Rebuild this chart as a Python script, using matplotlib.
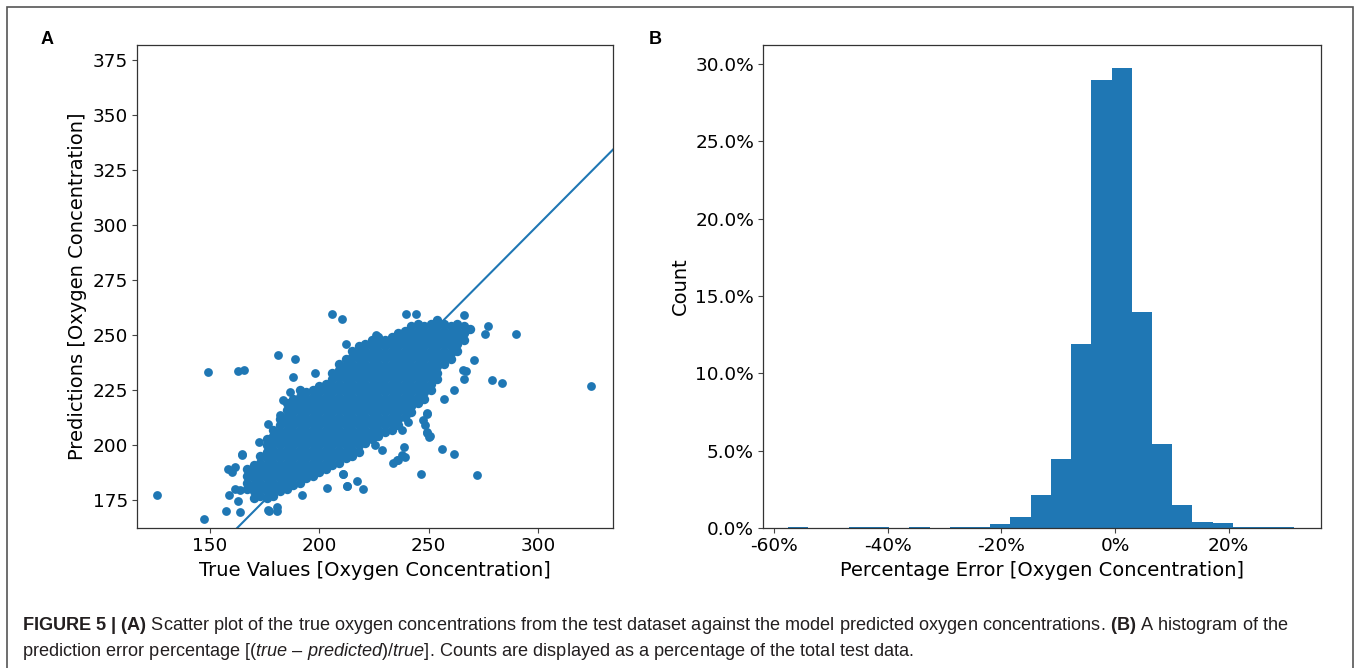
import matplotlib
matplotlib.use("Agg")
import matplotlib.pyplot as plt
import numpy as np
from matplotlib.patches import Rectangle
from matplotlib.ticker import FuncFormatter, PercentFormatter

# --- panel A: scattered points (true, predicted) ---
outlier_true = [125.8, 147.2, 149.2, 162.6, 165.6, 180.9, 188.8, 205.9, 210.4, 290.0,
                279.1, 283.7, 324.3, 272.1, 261.8, 256.3, 246.3, 157.1, 163.6, 158.7,
                163.0, 161.3, 164.6, 176.9, 180.5, 212.6, 217.0, 220.0, 203.7, 187.8,
                198.2, 212.0, 239.4, 244.4, 266.2, 277.1, 275.7, 270.8, 267.1, 266.2,
                261.8, 256.9, 238.0, 235.5, 249.3, 250.3, 249.3, 240.4, 228.5, 183.5,
                186.6, 225.9, 265.9, 210.7, 233.8, 236.1, 239.2, 238.8, 225.5, 237.7,
                247.6, 248.4, 249.1, 250.6, 249.1, 240.7, 191.9, 161.4, 163.7, 158.4,
                159.9, 164.8, 172.4, 176.4, 177.1, 182.0, 176.7, 180.5, 211.0, 212.5]
outlier_pred = [177.3, 166.7, 233.3, 233.8, 234.2, 240.9, 239.2, 259.8, 257.4, 250.4,
                229.8, 228.3, 226.8, 186.3, 195.9, 198.5, 186.8, 170.1, 169.8, 177.3,
                174.7, 190.1, 195.4, 170.0, 170.0, 181.5, 183.8, 180.3, 180.6, 231.0,
                232.8, 245.8, 259.8, 259.8, 259.1, 254.1, 250.3, 238.9, 233.6, 230.3,
                225.0, 221.2, 195.4, 193.2, 206.0, 203.8, 214.7, 210.6, 197.7, 220.4,
                224.2, 250.0, 234.1, 187.1, 192.0, 193.2, 194.7, 199.2, 200.0, 207.1,
                211.3, 209.1, 205.4, 204.1, 214.4, 214.7, 177.3, 180.3, 179.8, 189.4,
                187.9, 195.8, 201.5, 209.8, 200.8, 213.6, 170.4, 172.0, 187.1, 181.3]

# dense cloud, read column by column (true value -> predictions seen in that column)
cloud_true = [167, 170, 173, 176, 179, 182, 185, 188, 191, 194, 197, 200, 203, 206,
              209, 212, 215, 218, 221, 224, 227, 230, 233, 236, 239, 242, 245, 248,
              251, 254, 257, 260, 263, 266, 269]
cloud_pred = [
    [180, 183, 186, 189],
    [176, 179, 182, 185, 188, 191],
    [177, 180, 183, 186, 189, 192, 195],
    [176, 179, 182, 185, 188, 191, 194, 197, 200, 203],
    [177, 180, 183, 186, 189, 192, 195, 198, 201, 204, 207],
    [179, 182, 185, 188, 191, 194, 197, 200, 203, 206, 209, 212],
    [180, 183, 186, 189, 192, 195, 198, 201, 204, 207, 210, 213, 216, 219],
    [182, 185, 188, 191, 194, 197, 200, 203, 206, 209, 212, 215, 218, 221],
    [183, 186, 189, 192, 195, 198, 201, 204, 207, 210, 213, 216, 219, 222, 225],
    [185, 188, 191, 194, 197, 200, 203, 206, 209, 212, 215, 218, 221, 224],
    [186, 189, 192, 195, 198, 201, 204, 207, 210, 213, 216, 219, 222, 225],
    [188, 191, 194, 197, 200, 203, 206, 209, 212, 215, 218, 221, 224, 227],
    [189, 192, 195, 198, 201, 204, 207, 210, 213, 216, 219, 222, 225, 228],
    [191, 194, 197, 200, 203, 206, 209, 212, 215, 218, 221, 224, 227, 230, 233],
    [192, 195, 198, 201, 204, 207, 210, 213, 216, 219, 222, 225, 228, 231, 234, 237],
    [194, 197, 200, 203, 206, 209, 212, 215, 218, 221, 224, 227, 230, 233, 236, 239],
    [195, 198, 201, 204, 207, 210, 213, 216, 219, 222, 225, 228, 231, 234, 237, 240, 243],
    [197, 200, 203, 206, 209, 212, 215, 218, 221, 224, 227, 230, 233, 236, 239, 242, 245],
    [201, 204, 207, 210, 213, 216, 219, 222, 225, 228, 231, 234, 237, 240, 243, 246],
    [203, 206, 209, 212, 215, 218, 221, 224, 227, 230, 233, 236, 239, 242, 245, 248],
    [204, 207, 210, 213, 216, 219, 222, 225, 228, 231, 234, 237, 240, 243, 246, 249],
    [206, 209, 212, 215, 218, 221, 224, 227, 230, 233, 236, 239, 242, 245, 248],
    [207, 210, 213, 216, 219, 222, 225, 228, 231, 234, 237, 240, 243, 246, 249],
    [209, 212, 215, 218, 221, 224, 227, 230, 233, 236, 239, 242, 245, 248, 251],
    [213, 216, 219, 222, 225, 228, 231, 234, 237, 240, 243, 246, 249, 252],
    [215, 218, 221, 224, 227, 230, 233, 236, 239, 242, 245, 248, 251, 254],
    [219, 222, 225, 228, 231, 234, 237, 240, 243, 246, 249, 252, 255],
    [221, 224, 227, 230, 233, 236, 239, 242, 245, 248, 251, 254],
    [225, 228, 231, 234, 237, 240, 243, 246, 249, 252, 255],
    [230, 233, 236, 239, 242, 245, 248, 251, 254, 257],
    [237, 240, 243, 246, 249, 252, 255],
    [239, 242, 245, 248, 251, 254],
    [243, 246, 249, 252, 255],
    [248, 251, 254],
    [253],
]

# --- panel B: histogram of percentage error, bar heights in % of test data ---
hist_range = (-57.6, 31.45)
hist_heights = [0.05, 0.0, 0.0, 0.05, 0.05, 0.0, 0.05, 0.0, 0.05, 0.05,
                0.28, 0.72, 2.11, 4.48, 11.89, 28.96, 29.73, 13.96, 5.43, 1.49,
                0.41, 0.32, 0.06, 0.06, 0.06]

blue = "#1f77b4"

fig = plt.figure(figsize=(13.58, 6.68), dpi=100)

xs, ys = [], []
for x, col in zip(cloud_true, cloud_pred):
    xs += [x] * len(col)
    ys += col

ax1 = fig.add_axes([0.1009, 0.2096, 0.3505, 0.7230])
ax1.scatter(xs, ys, s=46, color=blue, linewidths=0)
ax1.scatter(outlier_true, outlier_pred, s=40, color=blue, linewidths=0)
ax1.plot([0, 500], [0, 500], color=blue, lw=1.5)
ax1.set_xlim(116.6, 334.3)
ax1.set_ylim(162.4, 381.8)
ax1.set_xticks([150, 200, 250, 300])
ax1.set_yticks([175, 200, 225, 250, 275, 300, 325, 350, 375])
ax1.set_xlabel("True Values [Oxygen Concentration]", fontsize=14)
ax1.set_ylabel("Predictions [Oxygen Concentration]", fontsize=14)

ax2 = fig.add_axes([0.5619, 0.2096, 0.4109, 0.7230])
edges = np.linspace(hist_range[0], hist_range[1], len(hist_heights) + 1)
ax2.stairs(hist_heights, edges, fill=True, color=blue)
ax2.set_xlim(-62.0, 36.3)
ax2.set_ylim(0, 31.24)
ax2.set_xticks([-60, -40, -20, 0, 20])
ax2.xaxis.set_major_formatter(FuncFormatter(lambda v, p: f"{v:.0f}%"))
ax2.yaxis.set_major_formatter(PercentFormatter(decimals=1))
ax2.set_xlabel("Percentage Error [Oxygen Concentration]", fontsize=14)
ax2.set_ylabel("Count", fontsize=14)

for ax in (ax1, ax2):
    ax.tick_params(labelsize=13.3, length=3.5, color="#444444", pad=3)
    for sp in ax.spines.values():
        sp.set_color("#333333")
        sp.set_linewidth(0.9)

fig.text(47 / 1358, 1 - 40 / 668, "A", fontsize=13, fontweight="bold",
         family="Liberation Sans", ha="center", va="center")
fig.text(655 / 1358, 1 - 40 / 668, "B", fontsize=13, fontweight="bold",
         family="Liberation Sans", ha="center", va="center")

# caption
plt.rcParams["mathtext.fontset"] = "custom"
plt.rcParams["mathtext.rm"] = "Liberation Sans"
plt.rcParams["mathtext.bf"] = "Liberation Sans:bold"
plt.rcParams["mathtext.it"] = "Liberation Sans:italic"
line1 = (r"$\mathbf{FIGURE\ 5\ |\ (A)}$ Scatter plot of the true oxygen concentrations from the test "
         r"dataset against the model predicted oxygen concentrations. $\mathbf{(B)}$ A histogram of the")
line2 = (r"prediction error percentage [($\mathit{true}$ – $\mathit{predicted}$)/$\mathit{true}$]. "
         r"Counts are displayed as a percentage of the total test data.")
fig.text(22 / 1358, 1 - 625 / 668, line1, fontsize=13.1, family="Liberation Sans",
         va="center", color="#231f20")
fig.text(22 / 1358, 1 - 651 / 668, line2, fontsize=13.1, family="Liberation Sans",
         va="center", color="#231f20")

fig.patches.append(Rectangle((7 / 1358, -0.01), 1346 / 1358, 1.01 - 7 / 668,
                             transform=fig.transFigure, fill=False,
                             edgecolor="#555555", lw=1.2))

fig.savefig("out.png", dpi=100)
